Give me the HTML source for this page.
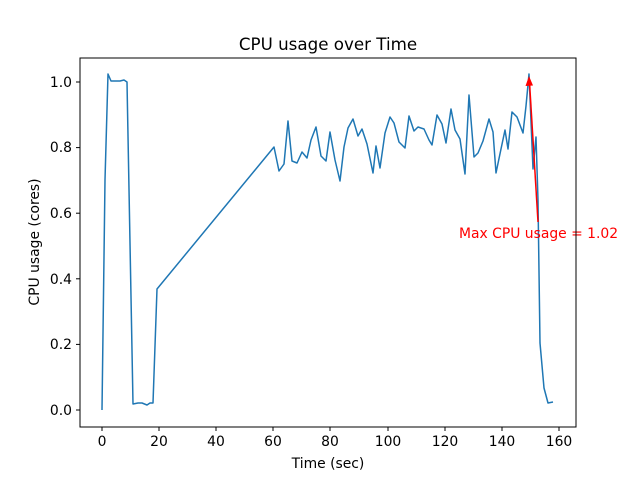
<!DOCTYPE html>
<html><head><style>body{margin:0;background:#fff}svg{display:block;font-family:"DejaVu Sans",sans-serif}</style></head><body>
<svg width="640" height="480" viewBox="0 0 640 480">
<rect width="640" height="480" fill="#fff"/>
<polyline fill="none" stroke="#1f77b4" stroke-width="1.5" stroke-linejoin="round" points="102,410 105,180 108,74 111,81 120,81 124,80 127,82 133,404 138,403 142,403 147,405 150,403 153,403 157,289 274,147 279,171 284,164 288,121 292,161 297,163 302,152 307,158 311,140 316,127 321,156 326,161 330,132 335,160 340,181 344,147 348,128 353,119 358,136 362,129 367,144 373,173 376,146 380,168 385,133 390,117 394,123 399,142 405,148 409,116 414,131 418,127 424,129 429,140 432,145 437,115 442,124 446,143 451,109 455,130 460,139 465,174 469,95 474,157 478,153 483,141 489,119 493,132 496,173 501,149 505,130 508,149 512,112 517,117 523,133 526,106 529,74 533,169 536,137 538,200 540,343 544,388 548,403 553,402"/>
<line x1="538" y1="222" x2="529.5" y2="82" stroke="red" stroke-width="1.5"/>
<polygon points="529,76 525.5,86 533,85.5" fill="red"/>
<text x="459" y="238" font-size="13.9" fill="red">Max CPU usage = 1.02</text>
<rect x="80" y="58" width="496" height="369" fill="none" stroke="#000" stroke-width="1"/>
<g stroke="#000" stroke-width="1">
<line x1="102" y1="427" x2="102" y2="431"/><line x1="159" y1="427" x2="159" y2="431"/><line x1="216" y1="427" x2="216" y2="431"/><line x1="273" y1="427" x2="273" y2="431"/><line x1="330" y1="427" x2="330" y2="431"/><line x1="388" y1="427" x2="388" y2="431"/><line x1="445" y1="427" x2="445" y2="431"/><line x1="502" y1="427" x2="502" y2="431"/><line x1="559" y1="427" x2="559" y2="431"/>
<line x1="76" y1="410" x2="80" y2="410"/><line x1="76" y1="344.4" x2="80" y2="344.4"/><line x1="76" y1="278.8" x2="80" y2="278.8"/><line x1="76" y1="213.2" x2="80" y2="213.2"/><line x1="76" y1="147.6" x2="80" y2="147.6"/><line x1="76" y1="82" x2="80" y2="82"/>
</g>
<g font-size="13.9" text-anchor="middle" fill="#000">
<text x="102" y="446">0</text><text x="159" y="446">20</text><text x="216" y="446">40</text><text x="273" y="446">60</text><text x="330" y="446">80</text><text x="388" y="446">100</text><text x="445" y="446">120</text><text x="502" y="446">140</text><text x="559" y="446">160</text>
</g>
<g font-size="13.9" text-anchor="end" fill="#000">
<text x="72" y="415">0.0</text><text x="72" y="349">0.2</text><text x="72" y="284">0.4</text><text x="72" y="218">0.6</text><text x="72" y="152">0.8</text><text x="72" y="87">1.0</text>
</g>
<text x="328" y="468" font-size="13.9" text-anchor="middle">Time (sec)</text>
<text transform="translate(39,242) rotate(-90)" font-size="13.9" text-anchor="middle">CPU usage (cores)</text>
<text x="328" y="50" font-size="16.7" text-anchor="middle">CPU usage over Time</text>
</svg>
</body></html>
